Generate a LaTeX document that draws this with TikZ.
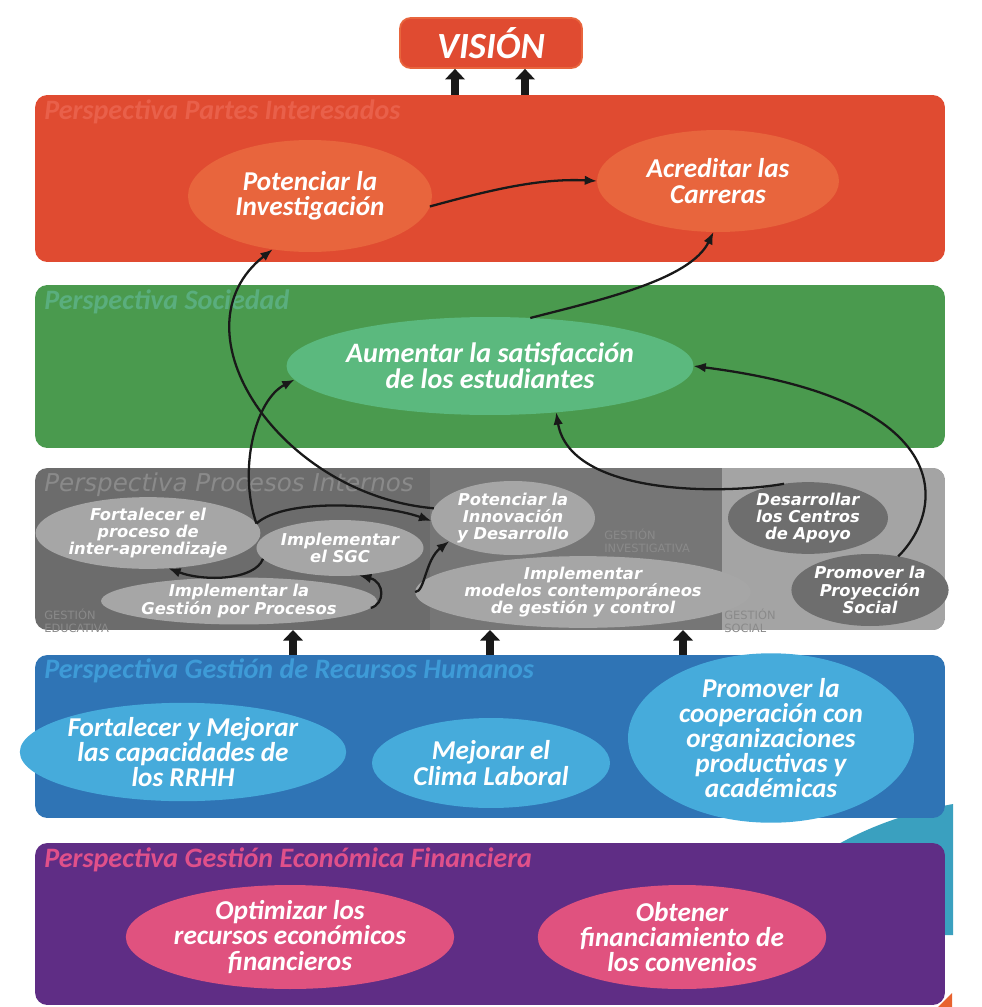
\documentclass[tikz,border=0pt]{standalone}
\usepackage{fontspec}
\usetikzlibrary{shapes.geometric,arrows.meta}
\newfontfamily\capfont{Carlito}
\newfontfamily\grayfont{DejaVu Sans}[BoldFont={DejaVu Sans Bold},ItalicFont={DejaVu Sans Oblique},BoldItalicFont={DejaVu Sans Bold Oblique}]

\definecolor{redband}{HTML}{E04B31}
\definecolor{redell}{HTML}{E8653D}
\definecolor{redlab}{HTML}{E9604A}
\definecolor{greenband}{HTML}{4A9A4E}
\definecolor{greenell}{HTML}{5BB97E}
\definecolor{greenlab}{HTML}{5AAE7E}
\definecolor{grayA}{HTML}{6C6C6C}
\definecolor{grayB}{HTML}{767676}
\definecolor{grayC}{HTML}{A4A4A4}
\definecolor{grayell}{HTML}{A6A6A6}
\definecolor{graydark}{HTML}{6E6E6E}
\definecolor{graylab}{HTML}{8A8A8A}
\definecolor{blueband}{HTML}{2F74B5}
\definecolor{blueell}{HTML}{46ABDB}
\definecolor{bluelab}{HTML}{3E9BD7}
\definecolor{purpleband}{HTML}{5F2D85}
\definecolor{pinkell}{HTML}{E0527F}
\definecolor{pinklab}{HTML}{E0508A}
\definecolor{tealpiece}{HTML}{3AA0BF}
\definecolor{orangepiece}{HTML}{E8622E}

\tikzset{
  band/.style={rounded corners=7pt, inner sep=0pt, outer sep=0pt, minimum width=18.2cm},
  bandlabel/.style={anchor=north west, inner sep=0pt, font=\capfont\bfseries\itshape\fontsize{16}{16}\selectfont},
  goal/.style={ellipse, inner sep=0pt, outer sep=0pt, align=center, text=white,
    font=\capfont\bfseries\itshape\fontsize{15.5}{14.3}\selectfont},
  proc/.style={ellipse, inner sep=0pt, outer sep=0pt, align=center, text=white,
    font=\grayfont\bfseries\itshape\fontsize{9.3}{9.9}\selectfont},
  arealabel/.style={anchor=north west, inner sep=0pt, align=left, text=graylab,
    font=\grayfont\fontsize{6.5}{7}\selectfont},
  conn/.style={line width=1.3pt, draw=black!90, -{Latex[length=7pt,width=5.5pt]}},
  bigarrow/.style={line width=4.2pt, draw=black!90, -{Triangle[length=6pt,width=11pt]}}
}

\begin{document}
\begin{tikzpicture}[x=0.02cm,y=-0.02cm]
\useasboundingbox[fill=white] (0,0) rectangle (981,1007);

% small coloured pieces peeking out behind the lower bands
\fill[tealpiece] (835,846) .. controls (870,826) and (910,812) .. (953,804)
  -- (953,935) -- (940,935) -- (940,846) -- cycle;
\fill[orangepiece] (938,1007) -- (952,993) -- (952,1007) -- cycle;

% ---------- bands ----------
\node[band, fill=redband, minimum height=3.34cm] (pi) at (490,178.5) {};
\node[band, fill=greenband, minimum height=3.26cm] (soc) at (490,366.5) {};
\node[band, fill=grayA, minimum height=3.24cm] (gb) at (490,549) {};
\begin{scope}
  \clip[rounded corners=7pt] (35,468) rectangle (945,630);
  \fill[grayB] (430,468) rectangle (722,630);
  \fill[grayC] (722,468) rectangle (945,630);
\end{scope}
\node[band, fill=blueband, minimum height=3.26cm] (rh) at (490,736.5) {};
\node[band, fill=purpleband, minimum height=3.24cm] (ef) at (490,924) {};

% band titles
\node[bandlabel, text=redlab] (lpi) at (44,99) {Perspectiva Partes Interesados};
\node[bandlabel, text=greenlab] (lsoc) at (44,289) {Perspectiva Sociedad};
\node[anchor=north west, inner sep=0pt, text=graylab,
  font=\grayfont\itshape\fontsize{14}{14}\selectfont] (lgb) at (44,472) {Perspectiva Procesos Internos};
\node[bandlabel, text=bluelab] (lrh) at (44,658) {Perspectiva Gestión de Recursos Humanos};
\node[bandlabel, text=pinklab] (lef) at (44,847) {Perspectiva Gestión Económica Financiera};

% area labels inside the internal-process band
\node[arealabel] (aedu) at (44,609) {GESTIÓN\\EDUCATIVA};
\node[arealabel] (ainv) at (604,529) {GESTIÓN\\INVESTIGATIVA};
\node[arealabel] (asoc) at (724,609) {GESTIÓN\\SOCIAL};

% ---------- vision ----------
\node[rounded corners=6pt, fill=redband, draw=redell, line width=1pt,
  minimum width=3.64cm, minimum height=1.0cm, inner sep=0pt, text=white,
  font=\capfont\bfseries\itshape\fontsize{21}{21}\selectfont] (vision) at (491,43) {VISIÓN};

% ---------- objectives ----------
\node[goal, fill=redell, minimum width=4.88cm, minimum height=2.24cm] (inv) at (310,196) {Potenciar la\\Investigación};
\node[goal, fill=redell, minimum width=4.84cm, minimum height=2.04cm] (acr) at (718,181) {Acreditar las\\Carreras};

\node[goal, fill=greenell, minimum width=7.6cm, minimum height=1.96cm,
  font=\capfont\bfseries\itshape\fontsize{16}{14.8}\selectfont] (aum) at (490,366) {Aumentar la satisfacción\\de los estudiantes};

\node[proc, fill=grayell, minimum width=4.4cm, minimum height=1.36cm] (fort) at (148,533) {Fortalecer el\\proceso de\\inter-aprendizaje};
\node[proc, fill=grayell, minimum width=2.72cm, minimum height=1.12cm] (sgc) at (340,548) {Implementar\\el SGC};
\node[proc, fill=grayell, minimum width=4.88cm, minimum height=0.88cm] (gpp) at (239,601) {Implementar la\\Gestión por Procesos};
\node[proc, fill=grayell, minimum width=3.28cm, minimum height=1.48cm] (inn) at (513,518) {Potenciar la\\Innovación\\y Desarrollo};
\node[proc, fill=grayell, minimum width=5.4cm, minimum height=1.28cm] (mod) at (583,592) {Implementar\\modelos contemporáneos\\de gestión y control};
\node[proc, fill=graydark, minimum width=3.2cm, minimum height=1.4cm] (cen) at (808,518) {Desarrollar\\los Centros\\de Apoyo};
\node[proc, fill=graydark, minimum width=2.92cm, minimum height=1.44cm] (proy) at (870,590) {Promover la\\Proyección\\Social};

\node[goal, fill=blueell, minimum width=4.92cm, minimum height=1.92cm] (rrhh) at (183,752) {Fortalecer y Mejorar\\las capacidades de\\los RRHH};
\node[goal, fill=blueell, minimum width=4.76cm, minimum height=1.8cm] (clima) at (491,763) {Mejorar el\\Clima Laboral};
\node[goal, fill=blueell, minimum width=5.72cm, minimum height=3.0cm] (coop) at (771,738) {Promover la\\cooperación con\\organizaciones\\productivas y\\académicas};

\node[goal, fill=pinkell, minimum width=5.4cm, minimum height=2.08cm] (opt) at (290,937) {Optimizar los\\recursos económicos\\financieros};
\node[goal, fill=pinkell, minimum width=5.28cm, minimum height=2.08cm] (obt) at (682,937) {Obtener\\financiamiento de\\los convenios};

% ---------- links between bands ----------
\draw[bigarrow] (pi.north -| 455,0) -- (vision.south -| 455,0);
\draw[bigarrow] (pi.north -| 525,0) -- (vision.south -| 525,0);
\draw[bigarrow] (rh.north -| 293,0) -- (gb.south -| 293,0);
\draw[bigarrow] (rh.north -| 490,0) -- (gb.south -| 490,0);
\draw[bigarrow] (rh.north -| 683,0) -- (gb.south -| 683,0);

% ---------- cause-effect links ----------
\draw[conn] (inv.-5) .. controls (490,190) and (540,178) .. (acr.180);
\draw[conn] (aum.50) .. controls (600,300) and (690,280) .. (acr.-95);
\draw[conn] (inn.173) .. controls (280,495) and (170,330) .. (inv.-125);
\draw[conn] (fort.5) .. controls (238,470) and (255,400) .. (aum.184);
\draw[conn] (fort.5) .. controls (285,498) and (380,503) .. (inn.182);
\draw[conn] (sgc.188) .. controls (255,580) and (205,582) .. (fort.-60);
\draw[conn] (gpp.-3) .. controls (385,604) and (385,582) .. (sgc.-55);
\draw[conn] (mod.180) .. controls (425,592) and (425,560) .. (inn.-160);
\draw[conn] (cen.125) .. controls (720,495) and (570,495) .. (aum.-35);
\draw[conn] (proy.50) .. controls (945,510) and (960,400) .. (aum.0);
\end{tikzpicture}
\end{document}
